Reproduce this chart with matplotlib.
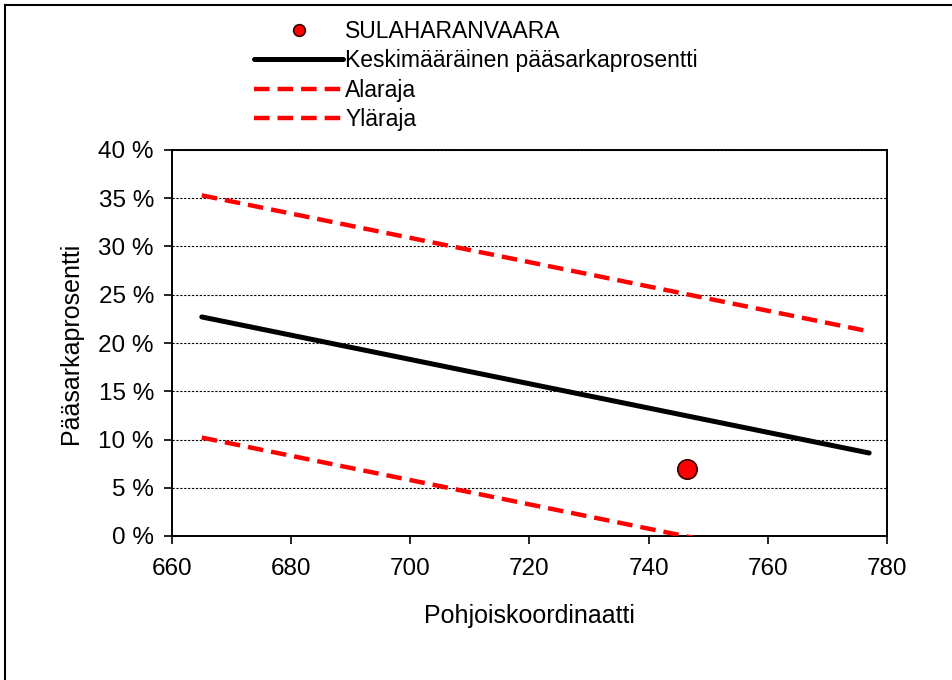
import matplotlib.pyplot as plt
from matplotlib.lines import Line2D
from matplotlib.ticker import FuncFormatter, MultipleLocator

plt.rcParams['font.family'] = ['Liberation Sans', 'DejaVu Sans']

# data (fractions, shown as percent)
line_x = [665, 777]
mean_y = [0.227, 0.086]
lower_y = [0.102, -0.039]
upper_y = [0.353, 0.212]
site_x = [746.5]
site_y = [0.069]

fig = plt.figure(figsize=(9.53, 6.8), dpi=100)
ax = fig.add_axes([172/953, 1-536/680, (887-172)/953, (536-150)/680])

ax.plot(site_x, site_y, 'o', color='red', markeredgecolor='#3a0000',
        markeredgewidth=1.2, markersize=14, label='SULAHARANVAARA', zorder=5)
ax.plot(line_x, mean_y, color='black', lw=3.6, solid_capstyle='round',
        label='Keskimääräinen pääsarkaprosentti', zorder=4)
ax.plot(line_x, lower_y, color='red', lw=3.2, linestyle=(0, (3.5, 1.8)),
        label='Alaraja', zorder=4)
ax.plot(line_x, upper_y, color='red', lw=3.2, linestyle=(0, (3.5, 1.8)),
        label='Yläraja', zorder=4)

ax.set_xlim(660, 780)
ax.set_ylim(0, 0.40)
ax.xaxis.set_major_locator(MultipleLocator(20))
ax.yaxis.set_major_locator(MultipleLocator(0.05))
ax.yaxis.set_major_formatter(FuncFormatter(lambda v, p: f"{v*100:.0f} %"))
ax.grid(axis='y', color='black', linestyle=(0, (2, 1.5)), linewidth=0.8)
ax.tick_params(direction='out', length=6, width=1.2, labelsize=17.5, colors='black')
ax.tick_params(axis='x', pad=10)
ax.tick_params(axis='y', pad=7)
for s in ax.spines.values():
    s.set_linewidth(1.4)

ax.set_xlabel('Pohjoiskoordinaatti', fontsize=18, labelpad=17)
ax.set_ylabel('Pääsarkaprosentti', fontsize=18, labelpad=11)

leg = ax.legend(loc='upper left', bbox_to_anchor=(254/953, 1-20/680),
                bbox_transform=fig.transFigure, frameon=False, fontsize=16.5,
                handlelength=3.9, handletextpad=0.08, labelspacing=0.28,
                borderpad=0, borderaxespad=0, markerscale=0.6)

# chart area border (left and top)
fig.add_artist(Line2D([5/953, 5/953], [0, 1-5/680], color='black', lw=1.5))
fig.add_artist(Line2D([5/953, 1], [1-5/680, 1-5/680], color='black', lw=1.5))

fig.savefig('out.png', dpi=100)
